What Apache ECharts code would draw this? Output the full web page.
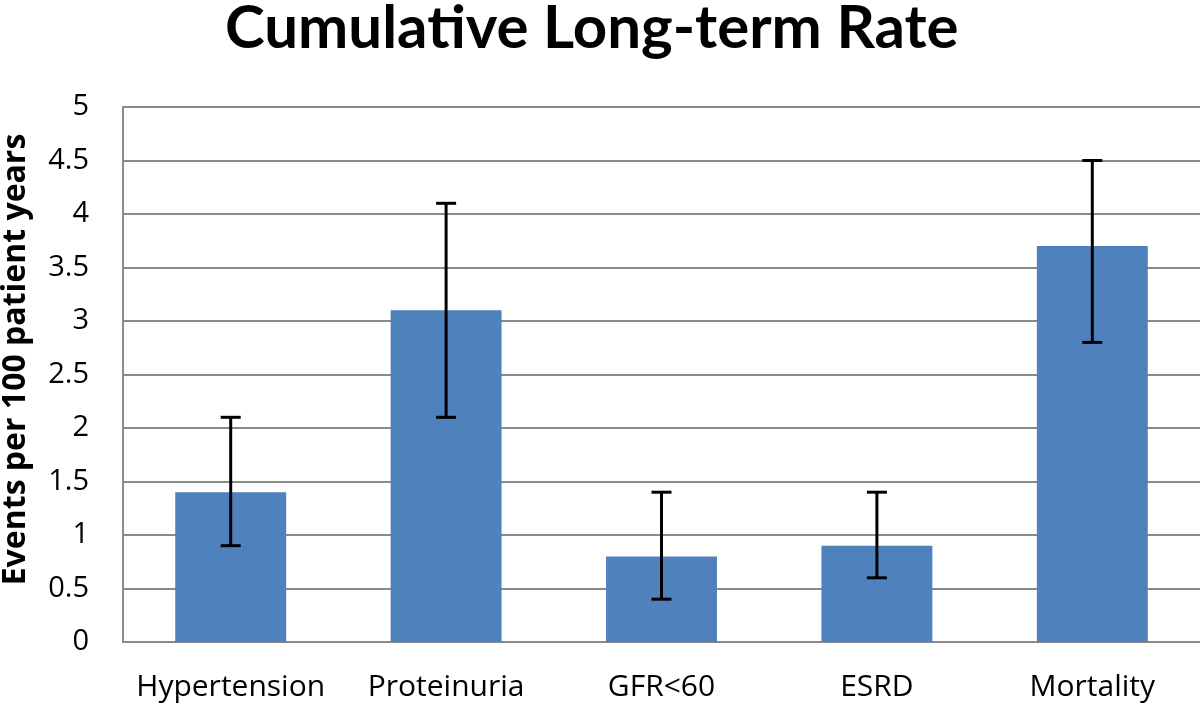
<!DOCTYPE html>
<html>
<head>
<meta charset="utf-8">
<script src="https://cdn.jsdelivr.net/npm/echarts@6/dist/echarts.min.js"></script>
<style>
html,body{margin:0;padding:0;background:#fff;}
#chart{width:1200px;height:706px;}
</style>
</head>
<body>
<div id="chart"></div>
<script>
const categories = ['Hypertension', 'Proteinuria', 'GFR<60', 'ESRD', 'Mortality'];
const rates = [1.4, 3.1, 0.8, 0.9, 3.7];
const errLow = [0.9, 2.1, 0.4, 0.6, 2.8];
const errHigh = [2.1, 4.1, 1.4, 1.4, 4.5];

const LABEL_FONT = 'Open Sans';
const chart = echarts.init(document.getElementById('chart'));
const errData = categories.map((c, i) => [i, errLow[i], errHigh[i]]);

chart.setOption({
  animation: false,
  backgroundColor: '#ffffff',
  title: {
    text: 'Cumulative Long-term Rate',
    left: 220,
    top: -6,
    textStyle: { fontFamily: 'Lato', fontWeight: 'bold', fontSize: 60, color: '#000' }
  },
  grid: { left: 123, right: 0, top: 107, bottom: 64, containLabel: false, outerBoundsMode: 'none' },
  xAxis: {
    type: 'category',
    data: categories,
    axisLine: { lineStyle: { color: '#8a8a8a', width: 2 } },
    axisTick: { show: false },
    axisLabel: { fontFamily: LABEL_FONT, fontSize: 30, color: '#000', margin: 30, interval: 0 }
  },
  yAxis: {
    type: 'value',
    min: 0, max: 5, interval: 0.5,
    name: 'Events per 100 patient years',
    nameLocation: 'middle',
    nameGap: 91,
    nameTextStyle: { fontFamily: LABEL_FONT, fontWeight: 'bold', fontSize: 32, color: '#000', padding: [0, 0, 0, 30] },
    axisLine: { show: true, lineStyle: { color: '#8a8a8a', width: 2 } },
    axisTick: { show: false },
    axisLabel: { fontFamily: LABEL_FONT, fontSize: 29, color: '#000', margin: 34 },
    splitLine: { lineStyle: { color: '#8a8a8a', width: 2 } }
  },
  series: [
    {
      type: 'bar',
      data: rates,
      barWidth: '51.5%',
      itemStyle: { color: '#4F81BD' },
      z: 2
    },
    {
      type: 'custom',
      data: errData,
      z: 5,
      renderItem: function (params, api) {
        const x = api.value(0);
        const lo = api.coord([x, api.value(1)]);
        const hi = api.coord([x, api.value(2)]);
        const half = 10;
        const style = { stroke: '#000', lineWidth: 3 };
        return {
          type: 'group',
          children: [
            { type: 'line', shape: { x1: lo[0], y1: lo[1], x2: hi[0], y2: hi[1] }, style: style },
            { type: 'line', shape: { x1: hi[0] - half, y1: hi[1], x2: hi[0] + half, y2: hi[1] }, style: style },
            { type: 'line', shape: { x1: lo[0] - half, y1: lo[1], x2: lo[0] + half, y2: lo[1] }, style: style }
          ]
        };
      }
    }
  ]
});
</script>
</body>
</html>
